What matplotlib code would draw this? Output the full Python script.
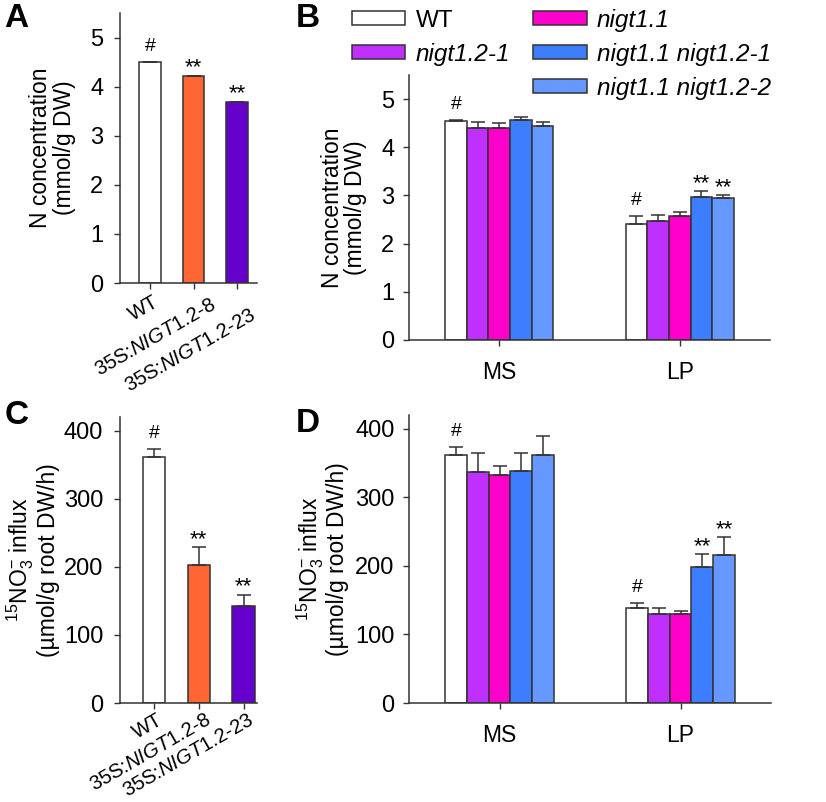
import matplotlib
matplotlib.use("Agg")
import matplotlib.pyplot as plt
import matplotlib.transforms as mtransforms
import numpy as np
from matplotlib.patches import Patch

plt.rcParams['font.family'] = ['Liberation Sans', 'DejaVu Sans']
plt.rcParams['mathtext.fontset'] = 'custom'
plt.rcParams['mathtext.rm'] = 'Liberation Sans'
plt.rcParams['mathtext.it'] = 'Liberation Sans:italic'
plt.rcParams['mathtext.default'] = 'regular'

# ---- data ----
oe_lines = ['WT', '35S:$\\mathit{NIGT1.2}$-$\\mathit{8}$', '35S:$\\mathit{NIGT1.2}$-$\\mathit{23}$']
oe_colors = ['white', '#FF6633', '#6600CC']
oe_n = [4.50, 4.21, 3.69]
oe_n_err = [0.01, 0.01, 0.005]
oe_n_sig = ['#', '**', '**']
oe_flux = [361, 202, 142]
oe_flux_err = [12, 27, 17]
oe_flux_sig = ['#', '**', '**']

conditions = ['MS', 'LP']
mutants = ['WT', 'nigt1.2-1', 'nigt1.1', 'nigt1.1 nigt1.2-1', 'nigt1.1 nigt1.2-2']
mut_colors = ['white', '#BF30FF', '#FF00CC', '#3D7EFF', '#6699FF']
# rows: mutants, cols: MS, LP
mut_n = [[4.54, 2.40], [4.40, 2.46], [4.41, 2.58], [4.56, 2.97], [4.44, 2.94]]
mut_n_err = [[0.03, 0.17], [0.12, 0.13], [0.09, 0.08], [0.06, 0.12], [0.08, 0.07]]
mut_n_sig = [['#', '#'], ['', ''], ['', ''], ['', '**'], ['', '**']]
mut_flux = [[362, 139], [337, 130], [332, 130], [339, 198], [362, 216]]
mut_flux_err = [[12, 7], [28, 8], [13, 4], [25, 19], [27, 26]]
mut_flux_sig = [['#', '#'], ['', ''], ['', ''], ['', '**'], ['', '**']]

EDGE = '#333333'
FS = 16.5
TFS = 17

fig = plt.figure(figsize=(8.26, 8.02), dpi=100)


def px_axes(l, t, r, b):
    W, H = 826.0, 802.0
    return fig.add_axes([l / W, 1 - b / H, (r - l) / W, (b - t) / H])


def style(ax, pad):
    for s in ['top', 'right']:
        ax.spines[s].set_visible(False)
    for s in ['left', 'bottom']:
        ax.spines[s].set_color(EDGE)
        ax.spines[s].set_linewidth(1.1)
    ax.tick_params(axis='y', direction='out', length=4, width=1, color=EDGE,
                   labelsize=TFS, pad=pad)
    ax.tick_params(axis='x', direction='out', length=4, width=1, color=EDGE,
                   labelsize=FS)


def sig_marks(ax, xs, tops, marks):
    for x, t, m in zip(xs, tops, marks):
        if not m:
            continue
        off = 5 if m == '#' else -2
        fs = 14 if m == '#' else 16
        ax.annotate(m, (x, t), xytext=(0, off), textcoords='offset points',
                    ha='center', va='bottom', fontsize=fs)


def oe_panel(ax, vals, errs, sig, xlim, ylim, yticks, ylabel, labelpad, lab_off):
    x = np.arange(len(vals))
    ax.bar(x, vals, width=0.5, color=oe_colors, edgecolor=EDGE, linewidth=1.1,
           yerr=[np.zeros(len(vals)), errs],
           error_kw=dict(ecolor=EDGE, elinewidth=1.1, capsize=5, capthick=1.1))
    style(ax, 8)
    ax.set_xlim(*xlim)
    ax.set_ylim(*ylim)
    ax.set_yticks(yticks)
    ax.set_xticks(x)
    ax.set_xticklabels([])
    # rotated category labels, offsets in pixels from the tick
    for i, (lab, (dx, dy)) in enumerate(zip(oe_lines, lab_off)):
        tr = ax.get_xaxis_transform() + mtransforms.ScaledTranslation(
            dx / 100, -dy / 100, fig.dpi_scale_trans)
        ax.text(x[i], 0, lab, transform=tr, rotation=30, rotation_mode='anchor',
                ha='right', va='top', fontsize=14.5, clip_on=False)
    ax.set_ylabel(ylabel, fontsize=FS, labelpad=labelpad, linespacing=1.05)
    sig_marks(ax, x, np.array(vals) + np.array(errs), sig)


def mut_panel(ax, vals, errs, sig, ylim, yticks, ylabel, labelpad):
    w = 0.12
    g = np.arange(len(conditions))
    bars = []
    for i in range(len(mutants)):
        xs = g + (i - 2) * w
        b = ax.bar(xs, vals[i], width=w, color=mut_colors[i], edgecolor=EDGE,
                   linewidth=1.1, label=mutants[i],
                   yerr=[np.zeros(len(g)), errs[i]],
                   error_kw=dict(ecolor=EDGE, elinewidth=1.1, capsize=5, capthick=1.1))
        bars.append(b)
        sig_marks(ax, xs, np.array(vals[i]) + np.array(errs[i]), sig[i])
    style(ax, 6.5)
    ax.tick_params(axis='x', pad=11)
    ax.set_xlim(-0.5, 1.5)
    ax.set_ylim(*ylim)
    ax.set_yticks(yticks)
    ax.set_xticks(g)
    ax.set_xticklabels(conditions, fontsize=FS)
    ax.set_ylabel(ylabel, fontsize=FS, labelpad=labelpad, linespacing=1.05)
    return bars


n_label = 'N concentration\n(mmol/g DW)'
flux_label = '$^{15}$NO$_3^{-}$ influx\n(\u00b5mol/g root DW/h)'

axA = px_axes(120, 13, 257, 283)
oe_panel(axA, oe_n, oe_n_err, oe_n_sig, (-0.69, 2.46), (0, 5.5), range(6), n_label, 10,
         [(3, 9), (16, 12), (12, 22)])

axC = px_axes(120, 417, 257, 703)
oe_panel(axC, oe_flux, oe_flux_err, oe_flux_sig, (-0.76, 2.3), (0, 420),
         range(0, 401, 100), flux_label, 3, [(3, 7), (6, 7), (4, 7)])

axB = px_axes(409, 75, 770, 340)
bars = mut_panel(axB, mut_n, mut_n_err, mut_n_sig, (0, 5.5), range(6), n_label, 10)

axD = px_axes(409, 415, 771, 703)
mut_panel(axD, mut_flux, mut_flux_err, mut_flux_sig, (0, 420), range(0, 401, 100),
          flux_label, 4)

blank = Patch(facecolor='none', edgecolor='none', label='')
handles = [bars[0], bars[1], blank, bars[2], bars[3], bars[4]]
labels = [mutants[0], mutants[1], '', mutants[2], mutants[3], mutants[4]]
leg = fig.legend(handles, labels, loc='upper left', bbox_to_anchor=(352 / 826, 1 - 9 / 802),
                 ncol=2, frameon=False, fontsize=17.5, handlelength=2.2, handleheight=0.52,
                 handletextpad=0.42, columnspacing=0.95, labelspacing=0.45,
                 borderpad=0, borderaxespad=0)
for t in leg.get_texts()[1:]:
    t.set_fontstyle('italic')

for letter, x, y in [('A', 4, 3), ('B', 296, 3), ('C', 5, 400), ('D', 296, 408)]:
    fig.text(x / 826, 1 - y / 802, letter, fontsize=24, fontweight='bold',
             ha='left', va='top')

fig.savefig('out.png', dpi=100)
